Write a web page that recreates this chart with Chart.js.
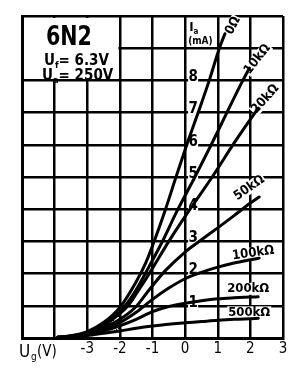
<!DOCTYPE html>
<html><head><meta charset="utf-8">
<script src="https://cdn.jsdelivr.net/npm/chart.js@4.4.1/dist/chart.umd.min.js"></script>
<style>html,body{margin:0;padding:0;background:#fff;}canvas{display:block;}</style>
</head><body>
<canvas id="c" width="306" height="370"></canvas>
<script>
// ---- data ----
const tubeName = '6N2';
const xAxisTicks = [-3, -2, -1, 0, 1, 2, 3];
const yAxisTicks = [1, 2, 3, 4, 5, 6, 7, 8];
const seriesNames = ['0Ω', '10kΩ', '20kΩ', '50kΩ', '100kΩ', '200kΩ', '500kΩ'];

const ug_0R   = [-3.9, -3.5, -3.0, -2.5, -2.0, -1.5, -1.2, -0.95, -0.6, -0.28, 0.05, 0.4, 0.74, 1.05, 1.22];
const ia_0R   = [0.02, 0.07, 0.20, 0.48, 0.95, 1.75, 2.35, 3.00, 4.00, 5.00, 6.00, 7.00, 8.00, 9.00, 9.45];
const ug_10k  = [-3.9, -3.5, -3.0, -2.5, -2.1, -1.8, -1.5, -1.25, -0.72, -0.22, 0.3, 0.8, 1.28, 1.77, 1.97];
const ia_10k  = [0.02, 0.06, 0.17, 0.42, 0.72, 1.05, 1.50, 1.95, 2.95, 4.00, 5.00, 6.00, 7.00, 8.00, 8.38];
const ug_20k  = [-3.9, -3.5, -3.0, -2.5, -2.1, -1.75, -1.45, -1.1, -0.5, 0.15, 0.83, 1.5, 2.24];
const ia_20k  = [0.02, 0.06, 0.16, 0.38, 0.68, 1.00, 1.45, 2.00, 3.00, 4.00, 5.00, 6.05, 7.14];
const ug_50k  = [-3.9, -3.5, -3.0, -2.5, -2.0, -1.5, -1.1, -0.6, 0.0, 0.5, 1.0, 1.5, 2.0, 2.27];
const ia_50k  = [0.02, 0.05, 0.14, 0.32, 0.58, 0.98, 1.50, 2.10, 2.67, 3.05, 3.42, 3.80, 4.19, 4.38];
const ug_100k = [-3.9, -3.5, -3.0, -2.5, -2.0, -1.5, -1.0, -0.5, 0.0, 0.5, 1.0, 1.5, 2.0, 2.27];
const ia_100k = [0.02, 0.05, 0.12, 0.27, 0.48, 0.80, 1.20, 1.55, 1.84, 2.04, 2.20, 2.33, 2.43, 2.48];
const ug_200k = [-3.9, -3.5, -3.0, -2.5, -2.0, -1.5, -1.0, -0.5, 0.0, 0.5, 1.0, 1.5, 2.0, 2.24];
const ia_200k = [0.02, 0.04, 0.10, 0.22, 0.38, 0.58, 0.82, 0.98, 1.08, 1.16, 1.22, 1.25, 1.27, 1.28];
const ug_500k = [-3.9, -3.5, -3.0, -2.5, -2.0, -1.5, -1.0, -0.5, 0.0, 0.5, 1.0, 1.5, 2.0, 2.24];
const ia_500k = [0.02, 0.04, 0.08, 0.15, 0.22, 0.30, 0.37, 0.43, 0.47, 0.51, 0.55, 0.58, 0.60, 0.61];

const allUg = [ug_0R, ug_10k, ug_20k, ug_50k, ug_100k, ug_200k, ug_500k];
const allIa = [ia_0R, ia_10k, ia_20k, ia_50k, ia_100k, ia_200k, ia_500k];

// ---- styling (label placement relative to the curve end, in px; rotation deg) ----
const labelStyle = [
  {dx: 8, dy: -8, rot: -62},
  {dx: 8, dy: -9, rot: -52},
  {dx: 7, dy: -9, rot: -48},
  {dx: -10, dy: -9, rot: -35},
  {dx: -6, dy: -5, rot: -8},
  {dx: -10, dy: -8, rot: 0},
  {dx: -9, dy: -6, rot: 0}
];
const FONT = '"DejaVu Sans Condensed", "DejaVu Sans", sans-serif';

function toPts(xs, ys){ return xs.map((x, i) => ({x: x, y: ys[i]})); }

const datasets = seriesNames.map((n, i) => ({
  label: n,
  data: toPts(allUg[i], allIa[i]),
  showLine: true,
  borderColor: '#000',
  borderWidth: 3,
  borderCapStyle: 'round',
  pointRadius: 0,
  fill: false,
  cubicInterpolationMode: 'monotone'
}));

function whiteBox(ctx, cx, cy, w, h){ ctx.fillStyle = '#fff'; ctx.fillRect(cx - w/2, cy - h/2, w, h); }
function cond(ctx){ try { ctx.fontStretch = 'condensed'; } catch(e){} }

function drawRuns(ctx, x, y, parts, size){
  let cx = x;
  parts.forEach(p => {
    const s = p[1] ? size * 0.62 : size;
    ctx.font = 'bold ' + s + 'px ' + FONT; cond(ctx);
    ctx.fillText(p[0], cx, y + (p[1] ? size * 0.22 : 0));
    cx += ctx.measureText(p[0]).width;
  });
}

function makeStipple(ctx){
  const c = document.createElement('canvas'); c.width = 6; c.height = 6;
  const g = c.getContext('2d');
  g.fillStyle = '#000';
  [[0,0],[3,1],[1,3],[4,4],[2,5],[5,2]].forEach(p => g.fillRect(p[0], p[1], 1, 1));
  return ctx.createPattern(c, 'repeat');
}

const decor = {
  id: 'decor',
  beforeDatasetsDraw(chart){
    const ctx = chart.ctx, xs = chart.scales.x, ys = chart.scales.y;
    ctx.save();
    // title box: clear the interior grid
    const l = xs.getPixelForValue(-5), r = xs.getPixelForValue(-2);
    const t = ys.getPixelForValue(10), b = ys.getPixelForValue(8);
    ctx.fillStyle = '#fff';
    ctx.fillRect(l + 2, t + 2, r - l - 3.5, b - t - 3.5);
    // stippled region between the outer curves at the low end
    const n = 5;
    ctx.beginPath();
    for (let i = 0; i < n; i++) { const px = xs.getPixelForValue(ug_0R[i]), py = ys.getPixelForValue(ia_0R[i]); i ? ctx.lineTo(px, py) : ctx.moveTo(px, py); }
    for (let i = n - 1; i >= 0; i--) ctx.lineTo(xs.getPixelForValue(ug_500k[i]), ys.getPixelForValue(ia_500k[i]));
    ctx.closePath();
    ctx.fillStyle = makeStipple(ctx); ctx.fill();
    // backgrounds behind y labels
    const x0 = xs.getPixelForValue(0);
    yAxisTicks.forEach(v => whiteBox(ctx, x0 + 8, ys.getPixelForValue(v) - 3, 10, 15));
    // backgrounds behind curve labels
    ctx.font = 'bold 13px ' + FONT; cond(ctx);
    datasets.forEach((d, i) => {
      const last = d.data[d.data.length - 1];
      const st = labelStyle[i];
      const px = xs.getPixelForValue(last.x) + st.dx, py = ys.getPixelForValue(last.y) + st.dy;
      const w = ctx.measureText(seriesNames[i]).width + 2;
      ctx.save(); ctx.translate(px, py); ctx.rotate(st.rot * Math.PI / 180);
      ctx.fillStyle = '#fff'; ctx.fillRect(-w/2, -6, w, 12);
      ctx.restore();
    });
    ctx.restore();
  },
  afterDatasetsDraw(chart){
    const ctx = chart.ctx, xs = chart.scales.x, ys = chart.scales.y;
    ctx.save();
    ctx.fillStyle = '#000';
    // title
    ctx.textAlign = 'center'; ctx.textBaseline = 'alphabetic';
    ctx.font = 'bold 27px ' + FONT; cond(ctx);
    const cxT = (xs.getPixelForValue(-5) + xs.getPixelForValue(-2)) / 2;
    ctx.save(); ctx.translate(cxT - 2, 45); ctx.scale(0.85, 1); ctx.fillText(tubeName, 0, 0); ctx.restore();
    ctx.textAlign = 'left';
    drawRuns(ctx, 44, 65, [['U', false], ['f', true], ['= 6.3V', false]], 15);
    drawRuns(ctx, 42, 80, [['U', false], ['a', true], ['= 250V', false]], 15);
    // Ia (mA)
    drawRuns(ctx, xs.getPixelForValue(0) + 4, 31, [['I', false], ['a', true]], 13);
    ctx.font = 'bold 10px ' + FONT; cond(ctx);
    ctx.fillText('(mA)', xs.getPixelForValue(0) + 3, 44);
    // y labels inside plot
    ctx.font = '600 15px ' + FONT; cond(ctx); ctx.textAlign = 'center'; ctx.textBaseline = 'middle';
    const x0 = xs.getPixelForValue(0);
    yAxisTicks.forEach(v => ctx.fillText(String(v), x0 + 8, ys.getPixelForValue(v) - 3));
    // curve labels
    ctx.font = 'bold 13px ' + FONT; cond(ctx);
    datasets.forEach((d, i) => {
      const last = d.data[d.data.length - 1];
      const st = labelStyle[i];
      const px = xs.getPixelForValue(last.x) + st.dx, py = ys.getPixelForValue(last.y) + st.dy;
      ctx.save(); ctx.translate(px, py); ctx.rotate(st.rot * Math.PI / 180);
      ctx.fillText(seriesNames[i], 0, 0);
      ctx.restore();
    });
    // x axis title
    ctx.textAlign = 'left'; ctx.textBaseline = 'alphabetic';
    ctx.font = '17px ' + FONT;
    ctx.fillText('U', 19, 357);
    ctx.font = '10px ' + FONT;
    ctx.fillText('g', 31, 360);
    ctx.font = '15px ' + FONT;
    ctx.fillText('(V)', 37, 356);
    ctx.restore();
  }
};

new Chart(document.getElementById('c'), {
  type: 'scatter',
  data: {datasets: datasets},
  options: {
    responsive: false,
    animation: false,
    devicePixelRatio: 1,
    layout: {padding: {top: 16, right: 23, left: 0, bottom: 0}},
    plugins: {legend: {display: false}, tooltip: {enabled: false}},
    scales: {
      x: {
        type: 'linear', min: -5, max: 3,
        afterBuildTicks(scale){ scale.ticks = [-5, -4, -3, -2, -1, 0, 1, 2, 3].map(v => ({value: v})); },
        afterFit(scale){ scale.height = 32; },
        ticks: {
          color: '#000', padding: 2, font: {size: 15, family: FONT},
          callback: v => xAxisTicks.includes(v) ? String(v) : ''
        },
        grid: {color: '#000', lineWidth: 2.5, drawTicks: false},
        border: {color: '#000', width: 3}
      },
      y: {
        type: 'linear', min: 0, max: 10,
        afterBuildTicks(scale){ scale.ticks = [0,1,2,3,4,5,6,7,8,9,10].map(v => ({value: v})); },
        afterFit(scale){ scale.width = 22; },
        ticks: {display: false},
        grid: {color: '#000', lineWidth: 2.5, drawTicks: false},
        border: {color: '#000', width: 3}
      }
    }
  },
  plugins: [decor]
});
</script>
</body></html>
